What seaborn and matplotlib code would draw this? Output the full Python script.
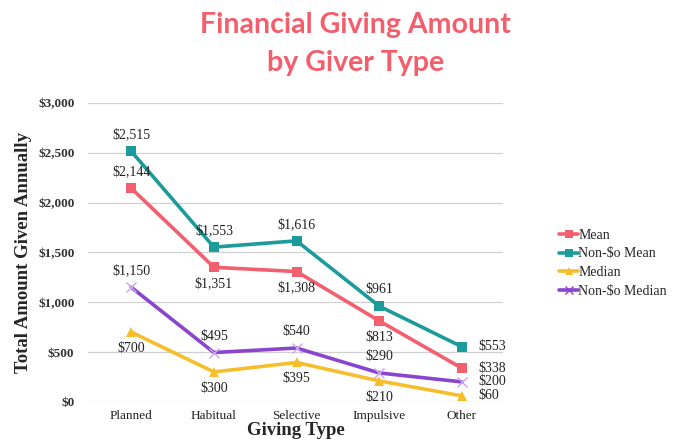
import pandas as pd
import matplotlib.pyplot as plt
import seaborn as sns

# chart values
giving_types = ["Planned", "Habitual", "Selective", "Impulsive", "Other"]
mean_vals = [2144, 1351, 1308, 813, 338]
nonzero_mean_vals = [2515, 1553, 1616, 961, 553]
median_vals = [700, 300, 395, 210, 60]
nonzero_median_vals = [1150, 495, 540, 290, 200]
series_names = ["Mean", "Non-$o Mean", "Median", "Non-$o Median"]
y_ticks = [0, 500, 1000, 1500, 2000, 2500, 3000]

colors = {"Mean": "#F25F6E", "Non-$o Mean": "#1C9B9C",
          "Median": "#F6BE2C", "Non-$o Median": "#8A45CF"}
markers = {"Mean": "s", "Non-$o Mean": "s", "Median": "^", "Non-$o Median": "x"}
# label placement per series: above / below, last point always to the right
placement = {"Mean": ["above", "below", "below", "below"],
             "Non-$o Mean": ["above", "above", "above", "above"],
             "Median": ["below", "below", "below", "below"],
             "Non-$o Median": ["above", "above", "above", "above"]}

all_vals = [mean_vals, nonzero_mean_vals, median_vals, nonzero_median_vals]
df = pd.DataFrame({
    "pos": list(range(len(giving_types))) * len(series_names),
    "value": [v for vals in all_vals for v in vals],
    "series": [s for s in series_names for _ in giving_types],
})

sns.set_style("white")
plt.rcParams["font.family"] = ["Liberation Serif", "DejaVu Serif"]

fig = plt.figure(figsize=(6.79, 4.44), dpi=100)
ax = fig.add_axes([0.130, 0.095, 0.611, 0.673])

for s in series_names:
    sub = df[df["series"] == s]
    sns.lineplot(data=sub, x="pos", y="value", color=colors[s], marker=markers[s],
                 linewidth=2.6, markersize=7, markeredgewidth=1.0 if s == "Non-$o Median" else 0,
                 markeredgecolor="#C9A6F0" if s == "Non-$o Median" else colors[s], ax=ax)

for s, vals in zip(series_names, all_vals):
    for i, v in enumerate(vals):
        label = f"${v:,}"
        if i == len(vals) - 1:
            ax.annotate(label, (i, v), xytext=(12, 0), textcoords="offset points",
                        ha="left", va="center", fontsize=10, color="#222222")
        elif placement[s][i] == "above":
            ax.annotate(label, (i, v), xytext=(0, 7), textcoords="offset points",
                        ha="center", va="bottom", fontsize=10, color="#222222")
        else:
            ax.annotate(label, (i, v), xytext=(0, -7), textcoords="offset points",
                        ha="center", va="top", fontsize=10, color="#222222")

ax.set_xlim(-0.52, 4.5)
ax.set_ylim(0, 3000)
ax.set_yticks(y_ticks)
ax.set_yticklabels([f"${t:,}" for t in y_ticks], fontsize=9.5, fontweight="bold", color="#333333")
ax.set_xticks(range(len(giving_types)))
ax.set_xticklabels(giving_types, fontsize=9.5, color="#222222")
ax.tick_params(axis="y", length=0, pad=10)
ax.tick_params(axis="x", length=0, pad=6)
ax.grid(axis="y", color="#D0D0D0", linewidth=0.9)
for sp in ax.spines.values():
    sp.set_visible(False)

ax.set_xlabel("Giving Type", fontsize=13.5, fontweight="bold", labelpad=0)
ax.set_ylabel("Total Amount Given Annually", fontsize=13.5, fontweight="bold", labelpad=4)

handles = [plt.Line2D([], [], color=colors[s], marker=markers[s], markersize=6,
                      markeredgewidth=1.0 if s == "Non-$o Median" else 0,
                      linewidth=2.6) for s in series_names]
fig.legend(handles, series_names, loc="upper left", bbox_to_anchor=(0.815, 0.497),
           frameon=False, fontsize=10, handlelength=1.4, handletextpad=0.0,
           labelspacing=0.4, borderaxespad=0)

fig.text(0.523, 0.943, "Financial Giving Amount", ha="center", va="center",
         fontsize=20.5, fontweight="bold", color="#F45D6B", family="Lato")
fig.text(0.523, 0.858, "by Giver Type", ha="center", va="center",
         fontsize=20.5, fontweight="bold", color="#F45D6B", family="Lato")

fig.savefig("out.png", dpi=100)
